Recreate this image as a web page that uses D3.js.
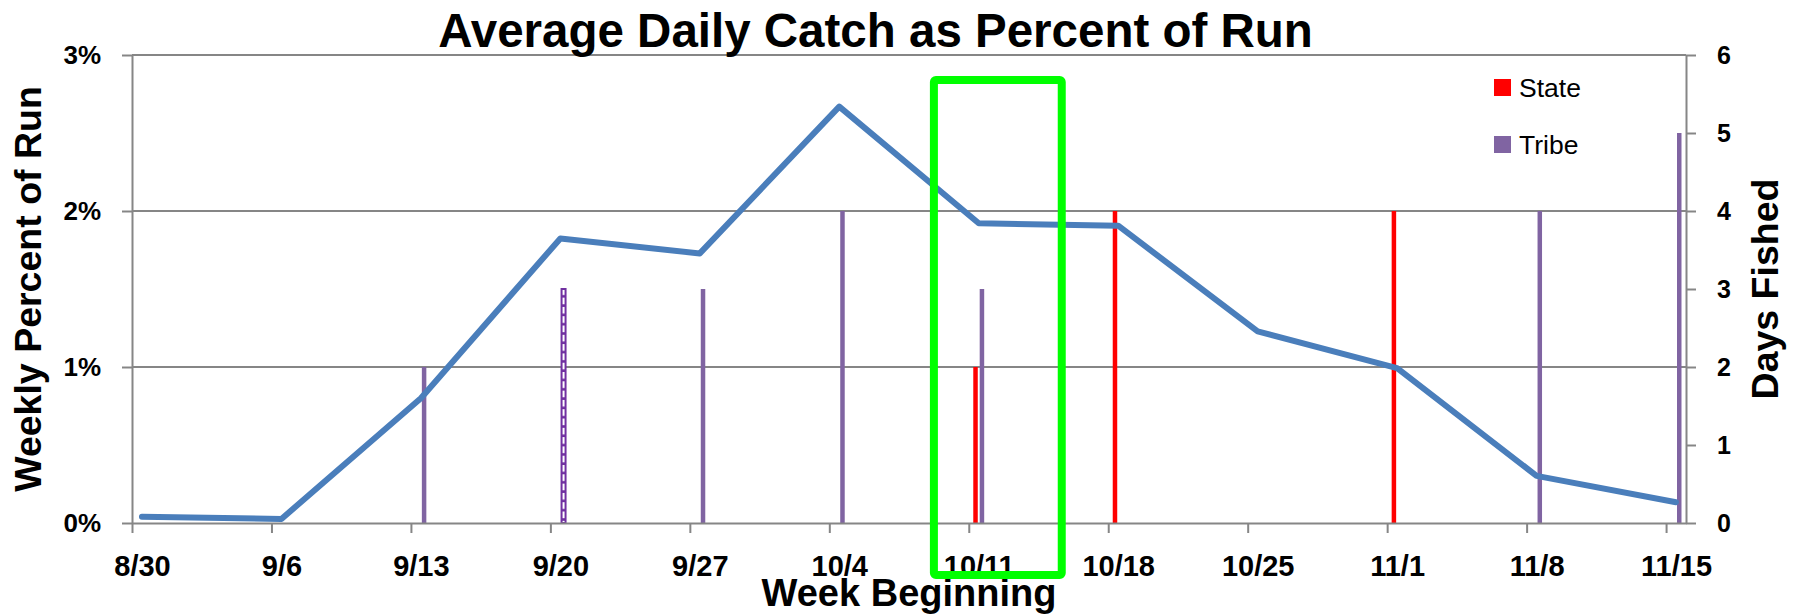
<!DOCTYPE html>
<html lang="en">
<head>
<meta charset="UTF-8">
<title>Average Daily Catch as Percent of Run</title>
<script src="https://d3js.org/d3.v7.min.js"></script>
<style>
  body { margin: 0; background: #fff; }
  svg text { font-family: "Liberation Sans", Arial, sans-serif; fill: #000; }
  .axis path, .axis line { stroke: #868686; stroke-width: 2; }
  .axis text { font-weight: bold; }
  .grid line { stroke: #868686; stroke-width: 2; }
  .title { font-weight: bold; }
</style>
</head>
<body>
<div id="chart"></div>
<script>
  // week beginning dates (x categories)
  const weeks = ["8/30", "9/6", "9/13", "9/20", "9/27", "10/4", "10/11", "10/18", "10/25", "11/1", "11/8", "11/15"];
  // weekly percent of run (left axis, %)
  const pctRun = [0.04, 0.026, 0.80, 1.824, 1.728, 2.669, 1.921, 1.906, 1.228, 0.993, 0.302, 0.133];
  // days fished (right axis)
  const stateDays = [0, 0, 0, 0, 0, 0, 2, 4, 0, 4, 0, 0];
  const tribeDays = [0, 0, 2, 3, 3, 4, 3, 0, 0, 0, 4, 5];
  const patternWeeks = ["9/20"];
  const seriesNames = ["State", "Tribe"];
  const seriesColors = { State: "#FF0000", Tribe: "#8064A2" };
  const leftTicks = [0, 1, 2, 3];
  const rightTicks = [0, 1, 2, 3, 4, 5, 6];
  // highlighted week box (days relative to the week, right-axis units)
  const highlightWeek = "10/11";
  const highlightDays = [-1.72, 4.68];
  const highlightY = [-0.667, 5.68];

  const width = 1798, height = 614;
  const plot = { left: 132, right: 1686, top: 55, bottom: 523 };

  const svg = d3.select("#chart").append("svg")
    .attr("width", width)
    .attr("height", height);

  svg.append("rect").attr("width", width).attr("height", height).attr("fill", "#fff");

  const parse = d3.utcParse("%m/%d/%Y");
  const dates = weeks.map(w => parse(w + "/2010"));
  const mid = d => d3.utcHour.offset(d, 12);

  const x = d3.scaleUtc()
    .domain([dates[0], d3.utcDay.offset(dates[dates.length - 1], 1)])
    .range([plot.left, plot.right]);
  const dayW = x(d3.utcDay.offset(dates[0], 1)) - x(dates[0]);

  const yLeft = d3.scaleLinear().domain([0, 3]).range([plot.bottom, plot.top]);
  const yRight = d3.scaleLinear().domain([0, 6]).range([plot.bottom, plot.top]);

  const xSub = d3.scaleBand()
    .domain(seriesNames)
    .range([-0.274 * dayW, 0.274 * dayW])
    .paddingInner(0.3);

  // pattern for the hatched tribe bar
  const defs = svg.append("defs");
  const pat = defs.append("pattern")
    .attr("id", "dashPattern")
    .attr("patternUnits", "userSpaceOnUse")
    .attr("width", 20)
    .attr("height", 9.3);
  pat.append("rect").attr("width", 20).attr("height", 9.3).attr("fill", "#fff");
  pat.append("rect").attr("y", 6.7).attr("width", 20).attr("height", 2.6).attr("fill", "#7030A0");

  // gridlines
  svg.append("g").attr("class", "grid")
    .selectAll("line")
    .data(leftTicks.filter(d => d > 0))
    .join("line")
    .attr("x1", plot.left).attr("x2", plot.right)
    .attr("y1", d => yLeft(d)).attr("y2", d => yLeft(d));

  // bars
  const barData = [];
  weeks.forEach((w, i) => {
    barData.push({ week: w, date: dates[i], series: "State", value: stateDays[i] });
    barData.push({ week: w, date: dates[i], series: "Tribe", value: tribeDays[i] });
  });
  const isPattern = d => patternWeeks.includes(d.week) && d.series === "Tribe";

  svg.append("g")
    .selectAll("rect")
    .data(barData.filter(d => d.value > 0))
    .join("rect")
    .attr("x", d => x(mid(d.date)) + xSub(d.series) + (isPattern(d) ? 0.25 : 0))
    .attr("width", d => isPattern(d) ? xSub.bandwidth() - 0.5 : xSub.bandwidth())
    .attr("y", d => yRight(d.value))
    .attr("height", d => yRight(0) - yRight(d.value))
    .attr("fill", d => isPattern(d) ? "url(#dashPattern)" : seriesColors[d.series])
    .attr("stroke", d => isPattern(d) ? "#7030A0" : "none")
    .attr("stroke-width", 2);

  // axes
  const xAxis = svg.append("g").attr("class", "axis")
    .attr("transform", `translate(0,${plot.bottom})`)
    .call(d3.axisBottom(x).tickValues(dates).tickSize(10).tickSizeOuter(0)
      .tickFormat(d3.utcFormat("%-m/%-d")));
  xAxis.selectAll("text")
    .attr("x", dayW / 2)
    .attr("y", 32)
    .attr("dy", "0.71em")
    .style("font-size", "29px");

  svg.append("g").attr("class", "axis")
    .attr("transform", `translate(${plot.left},0)`)
    .call(d3.axisLeft(yLeft).tickValues(leftTicks).tickSize(10).tickSizeOuter(0).tickPadding(21)
      .tickFormat(d => d + "%"))
    .selectAll("text").style("font-size", "26px");

  svg.append("g").attr("class", "axis")
    .attr("transform", `translate(${plot.right},0)`)
    .call(d3.axisRight(yRight).tickValues(rightTicks).tickSize(10).tickSizeOuter(0).tickPadding(21)
      .tickFormat(d3.format("d")))
    .selectAll("text").style("font-size", "25px");

  // line
  const line = d3.line()
    .x(d => x(mid(d.date)))
    .y(d => yLeft(d.pct));

  svg.append("path")
    .datum(weeks.map((w, i) => ({ date: dates[i], pct: pctRun[i] })))
    .attr("d", line)
    .attr("fill", "none")
    .attr("stroke", "#4A7EBB")
    .attr("stroke-width", 6)
    .attr("stroke-linejoin", "round")
    .attr("stroke-linecap", "round");

  // legend
  const legend = svg.append("g").attr("transform", "translate(1494,79)");
  seriesNames.forEach((s, i) => {
    const g = legend.append("g").attr("transform", `translate(0,${i * 57})`);
    g.append("rect").attr("width", 17).attr("height", 17).attr("fill", seriesColors[s]);
    g.append("text").attr("x", 25).attr("y", 18).style("font-size", "26.5px").text(s);
  });

  // titles
  svg.append("text").attr("class", "title")
    .attr("x", 875.5).attr("y", 46.7)
    .attr("text-anchor", "middle")
    .style("font-size", "47.5px")
    .text("Average Daily Catch as Percent of Run");

  svg.append("text").attr("class", "title")
    .attr("transform", `translate(41,${(plot.top + plot.bottom) / 2}) rotate(-90)`)
    .attr("text-anchor", "middle")
    .style("font-size", "37.5px")
    .text("Weekly Percent of Run");

  svg.append("text").attr("class", "title")
    .attr("transform", `translate(1778,${(plot.top + plot.bottom) / 2}) rotate(-90)`)
    .attr("text-anchor", "middle")
    .style("font-size", "37.5px")
    .text("Days Fished");

  svg.append("text").attr("class", "title")
    .attr("x", 909).attr("y", 606)
    .attr("text-anchor", "middle")
    .style("font-size", "38px")
    .text("Week Beginning");

  // green highlight box
  const hDate = dates[weeks.indexOf(highlightWeek)];
  const hx0 = x(d3.utcHour.offset(hDate, highlightDays[0] * 24));
  const hx1 = x(d3.utcHour.offset(hDate, highlightDays[1] * 24));
  svg.append("rect")
    .attr("x", hx0)
    .attr("y", yRight(highlightY[1]))
    .attr("width", hx1 - hx0)
    .attr("height", yRight(highlightY[0]) - yRight(highlightY[1]))
    .attr("rx", 2)
    .attr("fill", "none")
    .attr("stroke", "#00FF00")
    .attr("stroke-width", 8);
</script>
</body>
</html>
